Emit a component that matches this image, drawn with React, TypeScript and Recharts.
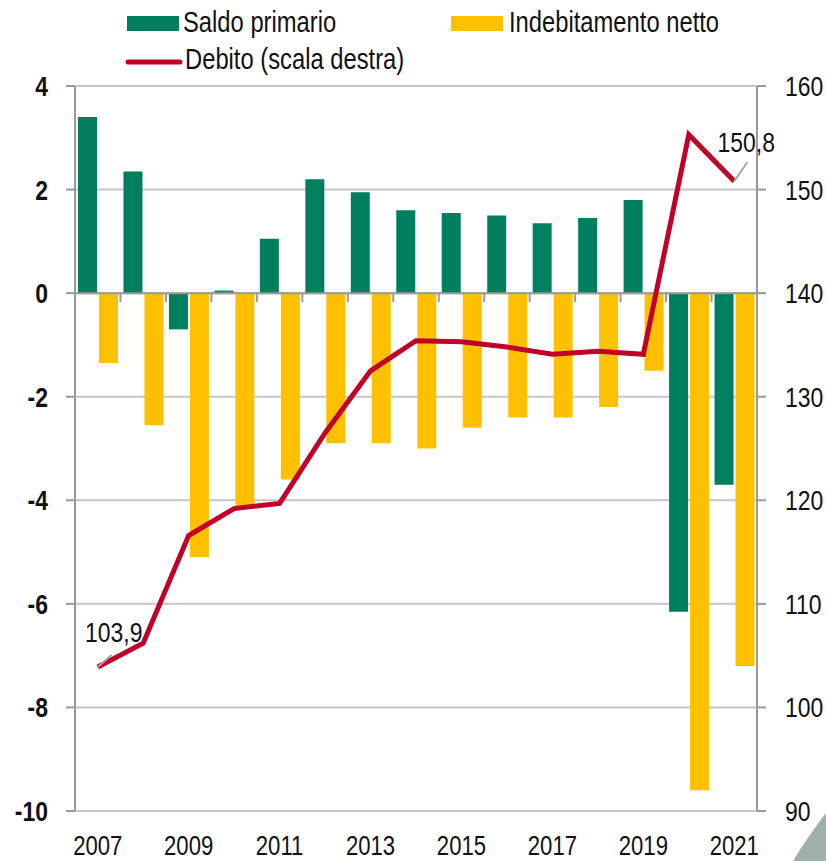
import React from 'react';
import {
  ComposedChart,
  Bar,
  Line,
  XAxis,
  YAxis,
  CartesianGrid,
  ReferenceLine,
  LabelList,
} from 'recharts';

const years = ['2007', '2008', '2009', '2010', '2011', '2012', '2013', '2014', '2015', '2016', '2017', '2018', '2019', '2020', '2021'];
const saldoPrimario = [3.4, 2.35, -0.7, 0.05, 1.05, 2.2, 1.95, 1.6, 1.55, 1.5, 1.35, 1.45, 1.8, -6.15, -3.7];
const indebitamentoNetto = [-1.35, -2.55, -5.1, -4.15, -3.6, -2.9, -2.9, -3.0, -2.6, -2.4, -2.4, -2.2, -1.5, -9.6, -7.2];
const debito = [103.9, 106.2, 116.6, 119.2, 119.7, 126.5, 132.5, 135.4, 135.3, 134.8, 134.1, 134.4, 134.1, 155.3, 150.8];

const leftTicks = [-10, -8, -6, -4, -2, 0, 2, 4];
const rightTicks = [90, 100, 110, 120, 130, 140, 150, 160];

const GREEN = '#007F5F';
const YELLOW = '#FFC000';
const RED = '#C00028';
const FONT = "'Liberation Sans', Arial, sans-serif";
const SQUEEZE = 0.82; // fake Arial Narrow, no narrow font installed

const data = years.map((year, i) => ({
  year,
  saldo: saldoPrimario[i],
  indebitamento: indebitamentoNetto[i],
  debito: debito[i],
}));

const fmt = (v: number) => v.toFixed(1).replace('.', ',');

const NarrowText = ({ x, y, anchor = 'start', size = 28, bold = false, dy = 0, children }: any) => (
  <text
    transform={`translate(${x} ${y}) scale(${SQUEEZE} 1)`}
    x={0}
    y={0}
    dy={dy}
    textAnchor={anchor}
    fontSize={size}
    fontWeight={bold ? 'bold' : 'normal'}
    fontFamily={FONT}
    fill="#111"
  >
    {children}
  </text>
);

const XTick = (props: any) => (
  <NarrowText x={props.x} y={props.y + 18} anchor="middle" size={27}>
    {props.payload.value}
  </NarrowText>
);

const LeftTick = (props: any) => (
  <NarrowText x={props.x} y={props.y} anchor="end" bold dy="0.355em">
    {props.payload.value}
  </NarrowText>
);

const RightTick = (props: any) => (
  <NarrowText x={props.x} y={props.y} anchor="start" dy="0.355em">
    {props.payload.value}
  </NarrowText>
);

// zero line with small ticks at category boundaries
const ZeroLine = (props: any) => {
  const { x1, y1, x2 } = props;
  const step = (x2 - x1) / years.length;
  return (
    <g>
      <line x1={x1} y1={y1} x2={x2} y2={y1} stroke="#9a9a9a" strokeWidth={2} />
      {years.map((_, i) => (
        <line key={i} x1={x1 + i * step} y1={y1} x2={x1 + i * step} y2={y1 + 9} stroke="#9a9a9a" strokeWidth={2} />
      ))}
    </g>
  );
};

const DebtLabel = (props: any) => {
  const { x, y, value, index } = props;
  const last = debito.length - 1;
  const isFirst = index === 0 || value === debito[0];
  const isLast = index === last || value === debito[last];
  if (!isFirst && !isLast) return null;
  const lead = isFirst ? { dx: 14, dy: -12, tx: 16, ty: -25 } : { dx: 13, dy: -19, tx: 12, ty: -29 };
  return (
    <g>
      <line x1={x} y1={y} x2={x + lead.dx} y2={y + lead.dy} stroke="#a6a6a6" strokeWidth={2} />
      <NarrowText x={x + lead.tx} y={y + lead.ty} anchor="middle">
        {fmt(value)}
      </NarrowText>
    </g>
  );
};

const ChartLegend = () => (
  <svg width={826} height={90} style={{ position: 'absolute', left: 0, top: 0 }}>
    <rect x={127} y={16} width={52} height={15} fill={GREEN} />
    <NarrowText x={183} y={32} size={29}>Saldo primario</NarrowText>
    <rect x={451} y={16} width={52} height={15} fill={YELLOW} />
    <NarrowText x={509} y={32} size={29}>Indebitamento netto</NarrowText>
    <line x1={128} y1={62} x2={180} y2={62} stroke={RED} strokeWidth={5} strokeLinecap="round" />
    <NarrowText x={185} y={69} size={29}>Debito (scala destra)</NarrowText>
  </svg>
);

const App: React.FC = () => {
  return (
    <div style={{ position: 'absolute', left: 0, top: 0, width: 826, height: 861, background: '#fff', overflow: 'hidden' }}>
      <ComposedChart
        width={826}
        height={861}
        data={data}
        margin={{ top: 86, right: 0, left: 0, bottom: 0 }}
        barSize={19}
        barGap={2}
      >
        <CartesianGrid yAxisId="left" horizontal vertical={false} stroke="#c6c6c6" strokeWidth={2} />
        <XAxis
          dataKey="year"
          interval={1}
          height={50}
          axisLine={false}
          tickLine={false}
          tickSize={0}
          tickMargin={26}
          tick={XTick}
        />
        <YAxis
          yAxisId="left"
          domain={[-10, 4]}
          ticks={leftTicks}
          width={75}
          tickSize={9}
          tickMargin={18}
          axisLine={{ stroke: '#9a9a9a', strokeWidth: 2 }}
          tickLine={{ stroke: '#9a9a9a', strokeWidth: 2 }}
          tick={LeftTick}
        />
        <YAxis
          yAxisId="right"
          orientation="right"
          domain={[90, 160]}
          ticks={rightTicks}
          width={69}
          tickSize={9}
          tickMargin={19}
          axisLine={{ stroke: '#9a9a9a', strokeWidth: 2 }}
          tickLine={{ stroke: '#9a9a9a', strokeWidth: 2 }}
          tick={RightTick}
        />
        <Bar yAxisId="left" dataKey="saldo" name="Saldo primario" fill={GREEN} isAnimationActive={false} />
        <Bar yAxisId="left" dataKey="indebitamento" name="Indebitamento netto" fill={YELLOW} isAnimationActive={false} />
        <ReferenceLine yAxisId="left" y={0} shape={ZeroLine} />
        <Line
          yAxisId="right"
          type="linear"
          dataKey="debito"
          name="Debito (scala destra)"
          stroke={RED}
          strokeWidth={5}
          dot={false}
          isAnimationActive={false}
        >
          <LabelList dataKey="debito" content={DebtLabel} />
        </Line>
      </ComposedChart>
      <ChartLegend />
      <svg width={826} height={861} style={{ position: 'absolute', left: 0, top: 0, pointerEvents: 'none' }}>
        <path d="M 793 861 Q 808 836 826 813 L 826 861 Z" fill="#9fb0aa" />
      </svg>
    </div>
  );
};

export default App;
